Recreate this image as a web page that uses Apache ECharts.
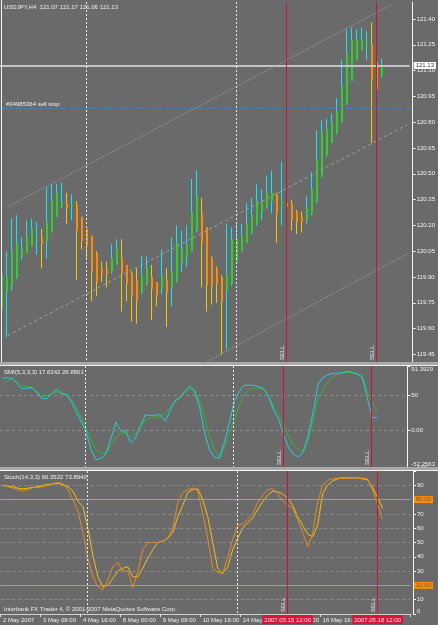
<!DOCTYPE html>
<html>
<head>
<meta charset="utf-8">
<script src="https://cdn.jsdelivr.net/npm/echarts@6/dist/echarts.min.js"></script>
<style>
  html, body { margin: 0; padding: 0; background: #6a6a6a; }
  #chart { width: 438px; height: 625px; }
</style>
</head>
<body>
<div id="chart"></div>
<script>
// USDJPY H4, 2 May 2007 00:00 .. 18 May 2007 16:00 (77 bars)
const opens  = [119.71,119.81,119.85,119.90,120.02,120.04,120.08,120.12,120.13,120.11,
                120.16,120.25,120.31,120.33,120.31,120.32,120.25,120.18,120.14,120.04,
                119.95,119.94,119.93,119.97,120.01,119.97,119.92,119.88,119.81,119.86,
                119.90,119.87,119.83,119.88,119.84,119.88,119.98,120.02,120.05,120.17,
                120.27,120.19,120.01,119.95,119.90,119.82,119.86,119.99,120.05,120.10,
                120.16,120.21,120.27,120.31,120.34,120.38,120.32,120.33,120.33,120.28,
                120.25,120.23,120.27,120.34,120.48,120.61,120.68,120.74,120.80,120.91,
                121.04,121.16,121.22,121.25,121.25,121.15,121.07];
const highs  = [120.12,120.05,120.24,120.26,120.13,120.23,120.24,120.22,120.18,120.42,
                120.44,120.44,120.45,120.39,120.38,120.34,120.25,120.18,120.14,120.05,
                119.99,119.99,120.09,120.12,120.12,119.97,119.93,119.95,120.02,120.02,
                119.97,119.87,120.06,119.95,120.13,120.20,120.17,120.20,120.47,120.52,
                120.36,120.19,120.02,119.96,119.91,120.21,120.19,120.21,120.21,120.33,
                120.36,120.44,120.41,120.49,120.52,120.39,120.57,120.34,120.35,120.29,
                120.28,120.37,120.51,120.75,120.81,120.82,120.85,120.94,121.16,121.34,
                121.35,121.34,121.35,121.33,121.38,121.16,121.17];
const lows   = [119.70,119.55,119.82,119.89,120.00,120.04,120.08,120.03,119.95,120.01,
                120.16,120.25,120.30,120.21,120.23,119.88,120.06,120.00,119.76,119.79,
                119.87,119.84,119.92,119.97,119.70,119.76,119.64,119.63,119.80,119.85,
                119.65,119.73,119.80,119.61,119.73,119.87,119.93,119.96,120.05,120.16,
                119.84,119.70,119.74,119.75,119.45,119.48,119.85,119.99,120.05,120.10,
                120.15,120.20,120.23,120.30,120.27,120.10,120.20,120.31,120.17,120.15,
                120.16,120.21,120.26,120.33,120.48,120.60,120.68,120.73,120.80,120.90,
                121.04,121.16,121.22,121.16,120.68,120.99,121.06];
const closes = [119.92,119.90,120.05,120.10,120.06,120.13,120.18,120.13,120.09,120.22,
                120.34,120.39,120.33,120.30,120.32,120.17,120.11,120.08,119.93,119.87,
                119.92,119.92,120.01,120.06,119.92,119.86,119.79,119.76,119.91,119.95,
                119.83,119.79,119.91,119.81,119.93,120.10,120.06,120.09,120.28,120.37,
                120.10,119.85,119.85,119.86,119.76,119.91,120.12,120.12,120.14,120.21,
                120.26,120.34,120.34,120.39,120.39,120.27,120.34,120.31,120.23,120.22,
                120.22,120.30,120.41,120.58,120.74,120.76,120.80,120.86,121.01,121.20,
                121.28,121.28,121.28,121.26,121.05,120.99,121.13];

// SMI(5,3,3,3): main and signal
const smiMain = [74.5,74.5,74,66,59,60,60.6,54,45,45,
                 52,58,52,51,40,26,12,-3,-28,-42,
                 -40,-33,-12,11.6,-1,-1,-18,-11,7,22,
                 21,21.5,22,13,28,42,46,55,63,55,
                 32,-4,-28,-38,-40,-17,10,40,55,64,
                 64,64,62,59,48,28,16,-6,-24,-34,
                 -38,-31,-8,25,65,75,79,81,81,82,
                 84,82,80,75,45,18,17.6342];
const smiSignal = [64,70,73,68,64,62,60.6,55,48,49,
                   52,54.6,53,50,43,32,18,2,-13,-29,
                   -32,-33,-20,-10,-4,-4,-9,-5,5,15,
                   17,19,19,24,33,40,48,55,59,57,
                   40,18,-8,-28,-38,-25,-5,15,35,50,
                   58,60,60.6,57,49,33,22,8,-8,-21,
                   -27,-29,-15,15,45,57,69,76,80,81.5,
                   82.4,82,80,78,54,40,26.8801];

// Stoch(14,3,3): main and signal
const stochMain = [90.3,89,88,87,86,87,88.4,88.5,89,90,
                   91,92,91,87,80,72,57,39,26,19,
                   17,24,33,36,30,30,18.3,30,45,50,
                   50,50,51,53,60,78,85,87,88,86,
                   70,53,32,29,28.4,40,52,62,63,66,
                   70,78,83,87,87.5,84,79,76,74,66,
                   57,47,56,78,90,93.5,94.5,95,95,95,
                   95.2,95.2,95,94.5,86.8,77,66.3522];
const stochSignal = [89.7,89.5,89,88,87.5,88,88.5,89,90,90.5,
                     91,91.4,90.5,89,86,79,75,60,41,26,
                     19,20,25,30,32,33,26,26,32,39,
                     45,50,51,53,57,68,76,85,87,87.5,
                     80,68,50,32,28.4,33,45,53,60,64,
                     67,73,78.6,83,86,85.5,84,81,76,68,
                     62,56,54,62,84,90,93,94.5,95.2,95.2,
                     95.2,95.2,94.5,93.8,88.5,81.5,73.894];

const timeLabels = ['2 May 2007', '3 May 08:00', '4 May 16:00', '8 May 00:00', '9 May 08:00',
                    '10 May 16:00', '14 May 00:00', '15 May 08:00', '16 May 16:00', '18 May 00:00'];
const priceTicks = [119.45, 119.60, 119.75, 119.90, 120.05, 120.20, 120.35, 120.50,
                    120.65, 120.80, 120.95, 121.10, 121.25, 121.40];
const smiTicks = [-52.2563, 0, 50, 91.3929];
const smiTickLabels = ['{b|-52.2563}', '0.00', '50', '{t|91.3929}'];
const stochTicks = [0, 10, 30, 40, 50, 60, 70, 90, 100];
const stochTickLabels = ['{b|0}', '10', '30', '40', '50', '60', '70', '90', '{u|100}'];
const stochLevels = [80, 20];
const stochGridLevels = [90, 70, 60, 50, 40, 30, 10];
const smiGridLevels = [50, 0];

const lastPrice = 121.13;
const sellStop = 120.88;
const weekBreaks = [17, 47];          // bar index of period separators
const sellBars = [57, 75];            // 2007.05.15 12:00, 2007.05.18 12:00
const sellLabels = ['2007.05.15 12:00', '2007.05.18 12:00'];
// trend channel: [bar, price] pairs
const channelUpper = [[1, 120.307], [78, 121.485]];
const channelMid   = [[1, 119.559], [81, 120.785]];
const channelLow   = [[41, 119.41], [81, 120.035]];

const SLOTS = 82; // bars + chart shift to the right
const cats = Array.from({ length: SLOTS }, (_, i) => i);
// vertical markers: [bar, kind] kind 0 = period separator, 1 = sell
const vMarks = weekBreaks.map(b => [b, 0]).concat(sellBars.map(b => [b, 1]));

const FONT = "'Liberation Sans', Arial, sans-serif";
const FS = 6;
const TXT = '#f0f0f0';
const UP_WICK = '#10e8f4', UP_BODY = '#32cd32';
const DN_WICK = '#f8c800', DN_BODY = '#ff8c00';
const SEP_RED = '#d4102c';

function renderCandle(params, api) {
  const i = api.value(0), o = api.value(1), c = api.value(2), l = api.value(3), h = api.value(4);
  const up = c >= o;
  const hi = api.coord([i, h]), lo = api.coord([i, l]);
  const bt = api.coord([i, Math.max(o, c)]), bb = api.coord([i, Math.min(o, c)]);
  const x = Math.round(hi[0]) - 0.5;
  const bh = Math.max(1, bb[1] - bt[1]);
  return {
    type: 'group',
    children: [
      { type: 'line', shape: { x1: x, y1: hi[1], x2: x, y2: lo[1] },
        style: { stroke: up ? UP_WICK : DN_WICK, lineWidth: 1 } },
      { type: 'rect', shape: { x: x - 0.5, y: bt[1], width: 2, height: bh },
        style: { fill: up ? UP_BODY : DN_BODY } }
    ]
  };
}

// separator / sell lines across one panel
function renderVMark(params, api) {
  const cs = params.coordSys;
  const x = Math.round(api.coord([api.value(0), api.value(1)])[0]) - 0.5;
  const sell = api.value(1) === 1;
  const kids = [{
    type: 'line', shape: { x1: x, y1: cs.y, x2: x, y2: cs.y + cs.height },
    style: { stroke: sell ? SEP_RED : '#ececec', lineWidth: 1, lineDash: sell ? null : [2, 2] }
  }];
  if (sell) {
    kids.push({
      type: 'text', x: x - 1, y: cs.y + cs.height - 2, rotation: Math.PI / 2,
      style: { text: 'SELL', fill: '#e6e6e6', fontSize: FS, fontFamily: FONT, align: 'left', verticalAlign: 'bottom' }
    });
  }
  return { type: 'group', children: kids };
}

const vMarkSeries = idx => ({
  type: 'custom', xAxisIndex: idx, yAxisIndex: idx, data: vMarks, encode: { x: 0 },
  renderItem: renderVMark, clip: false, silent: true, z: 5
});

function xAxisFor(gridIndex, show) {
  return {
    type: 'category', gridIndex, data: cats, boundaryGap: true,
    axisLine: { show, lineStyle: { color: '#d0d0d0' } },
    axisTick: { show, interval: 7, length: 3, lineStyle: { color: '#e0e0e0' } },
    axisLabel: {
      show, interval: 7, align: 'left', margin: 3, color: TXT, fontSize: FS, fontFamily: FONT,
      formatter: (v, idx) => timeLabels[idx / 8] || ''
    },
    splitLine: { show: false }
  };
}

const labelRich = {
  t: { padding: [6, 0, 0, 0], color: TXT, fontSize: FS, fontFamily: FONT },
  b: { padding: [0, 0, 5, 0], color: TXT, fontSize: FS, fontFamily: FONT },
  u: { padding: [0, 0, 5, 0], color: TXT, fontSize: FS, fontFamily: FONT }
};

function yAxisFor(gridIndex, min, max, ticks, fmt) {
  return {
    type: 'value', gridIndex, position: 'right', offset: 3, min, max,
    axisLine: { show: true, lineStyle: { color: '#f4f4f4' } },
    axisTick: { show: true, inside: false, length: 3, lineStyle: { color: '#f4f4f4' }, customValues: ticks },
    axisLabel: { color: TXT, fontSize: FS, fontFamily: FONT, margin: 4, customValues: ticks,
                 formatter: fmt, rich: labelRich },
    splitLine: { show: false }
  };
}

const pick = (ticks, labels) => v => labels[ticks.findIndex(t => Math.abs(t - v) < 1e-6)] || '';
const hLevel = (v, color, dash) => ({ yAxis: v, lineStyle: { color, type: dash, width: 1 } });
const mlBase = { silent: true, symbol: ['none', 'none'], animation: false, label: { show: false } };

const chart = echarts.init(document.getElementById('chart'), null, { renderer: 'canvas' });

chart.setOption({
  backgroundColor: '#6a6a6a',
  animation: false,
  grid: [
    { left: 0, top: 2, width: 410, height: 360 },
    { left: 0, top: 366, width: 410, height: 101 },
    { left: 0, top: 471, width: 410, height: 143 }
  ],
  xAxis: [xAxisFor(0, false), xAxisFor(1, false), xAxisFor(2, true)],
  yAxis: [
    yAxisFor(0, 119.406, 121.499, priceTicks, v => v.toFixed(2)),
    yAxisFor(1, -52.2563, 91.3929, smiTicks, pick(smiTicks, smiTickLabels)),
    yAxisFor(2, 0, 100, stochTicks, pick(stochTicks, stochTickLabels))
  ],
  series: [
    {
      type: 'custom', name: 'USDJPY', xAxisIndex: 0, yAxisIndex: 0, clip: true, silent: true,
      data: opens.map((o, i) => [i, o, closes[i], lows[i], highs[i]]),
      encode: { x: 0, y: [1, 2, 3, 4] },
      renderItem: renderCandle, z: 2
    },
    {
      type: 'line', name: 'marks', xAxisIndex: 0, yAxisIndex: 0, data: closes, z: 3,
      symbol: 'none', silent: true, lineStyle: { opacity: 0 },
      markLine: Object.assign({}, mlBase, {
        data: [
          { yAxis: lastPrice, lineStyle: { color: '#c4c4c4', type: 'solid', width: 2 },
            label: { show: true, position: 'end', distance: 4, formatter: lastPrice.toFixed(2),
                     backgroundColor: '#ffffff', color: '#404040', padding: [1, 2, 0, 2],
                     fontSize: FS, fontFamily: FONT } },
          { yAxis: sellStop, lineStyle: { color: '#4a80b8', type: [7, 3, 2, 3], width: 1 },
            label: { show: true, position: 'insideStartTop', distance: 1, formatter: '#34985364 sell stop',
                     padding: [0, 0, 0, 5], color: TXT, fontSize: FS, fontFamily: FONT } },
          [{ coord: channelUpper[0], lineStyle: { color: '#a0a0a0', type: [1, 1], width: 1 } }, { coord: channelUpper[1] }],
          [{ coord: channelMid[0], lineStyle: { color: '#a4a4a4', type: [3, 3], width: 1 } }, { coord: channelMid[1] }],
          [{ coord: channelLow[0], lineStyle: { color: '#a0a0a0', type: [1, 1], width: 1 } }, { coord: channelLow[1] }]
        ]
      })
    },
    vMarkSeries(0),
    {
      type: 'line', name: 'SMI', xAxisIndex: 1, yAxisIndex: 1, data: smiMain, z: 4,
      symbol: 'none', silent: true, lineStyle: { color: '#1ed2e2', width: 1 },
      markLine: Object.assign({}, mlBase, {
        data: smiGridLevels.map(v => hLevel(v, '#8e8e8e', [3, 3]))
      })
    },
    {
      type: 'line', name: 'SMI signal', xAxisIndex: 1, yAxisIndex: 1, data: smiSignal, z: 3,
      symbol: 'none', silent: true, lineStyle: { color: '#34b834', width: 1 }
    },
    vMarkSeries(1),
    {
      type: 'line', name: 'Stoch', xAxisIndex: 2, yAxisIndex: 2, data: stochMain, z: 4,
      symbol: 'none', silent: true, lineStyle: { color: '#f08a10', width: 1 },
      markLine: Object.assign({}, mlBase, {
        data: [
          ...stochGridLevels.map(v => hLevel(v, '#8e8e8e', [3, 3])),
          ...stochLevels.map(v => Object.assign(hLevel(v, '#ff8c00', 'solid'), {
            label: { show: true, position: 'end', distance: 4, formatter: v.toFixed(2),
                     backgroundColor: '#ff8c00', color: '#5c5c5c', padding: [1, 2, 0, 2],
                     fontSize: FS, fontFamily: FONT }
          })),
          ...sellBars.map((b, k) => ({
            xAxis: b, lineStyle: { color: 'rgba(0,0,0,0)', width: 0 },
            label: { show: true, position: 'start', distance: 1, formatter: sellLabels[k],
                     backgroundColor: '#dc143c', color: '#f6e6ea', padding: [2, 2, 1, 2],
                     fontSize: FS, fontFamily: FONT }
          }))
        ]
      })
    },
    {
      type: 'line', name: 'Stoch signal', xAxisIndex: 2, yAxisIndex: 2, data: stochSignal, z: 3,
      symbol: 'none', silent: true, lineStyle: { color: '#f0c418', width: 1 }
    },
    vMarkSeries(2)
  ],
  graphic: [
    { type: 'rect', z: 100, shape: { x: 0, y: 362, width: 438, height: 3 }, style: { fill: '#a8a8a8' } },
    { type: 'rect', z: 100, shape: { x: 0, y: 365, width: 438, height: 1 }, style: { fill: '#f4f4f4' } },
    { type: 'rect', z: 100, shape: { x: 0, y: 467, width: 438, height: 3 }, style: { fill: '#a8a8a8' } },
    { type: 'rect', z: 100, shape: { x: 0, y: 470, width: 438, height: 1 }, style: { fill: '#f4f4f4' } },
    { type: 'rect', z: 100, shape: { x: 1, y: 0, width: 1, height: 362 }, style: { fill: '#f4f4f4' } },
    { type: 'text', z: 100, x: 4, y: 7,
      style: { text: 'USDJPY,H4  121.07 121.17 121.06 121.13', fill: TXT, fontSize: FS, fontFamily: FONT, verticalAlign: 'middle' } },
    { type: 'text', z: 100, x: 4, y: 372,
      style: { text: 'SMI(5,3,3,3) 17.6342 26.8801', fill: TXT, fontSize: FS, fontFamily: FONT, verticalAlign: 'middle' } },
    { type: 'text', z: 100, x: 4, y: 477,
      style: { text: 'Stoch(14,3,3) 66.3522 73.8940', fill: TXT, fontSize: FS, fontFamily: FONT, verticalAlign: 'middle' } },
    { type: 'text', z: 100, x: 4, y: 609,
      style: { text: 'Interbank FX Trader 4, \u00a9 2001-2007 MetaQuotes Software Corp.', fill: TXT, fontSize: FS, fontFamily: FONT, verticalAlign: 'middle' } }
  ]
});
</script>
</body>
</html>
